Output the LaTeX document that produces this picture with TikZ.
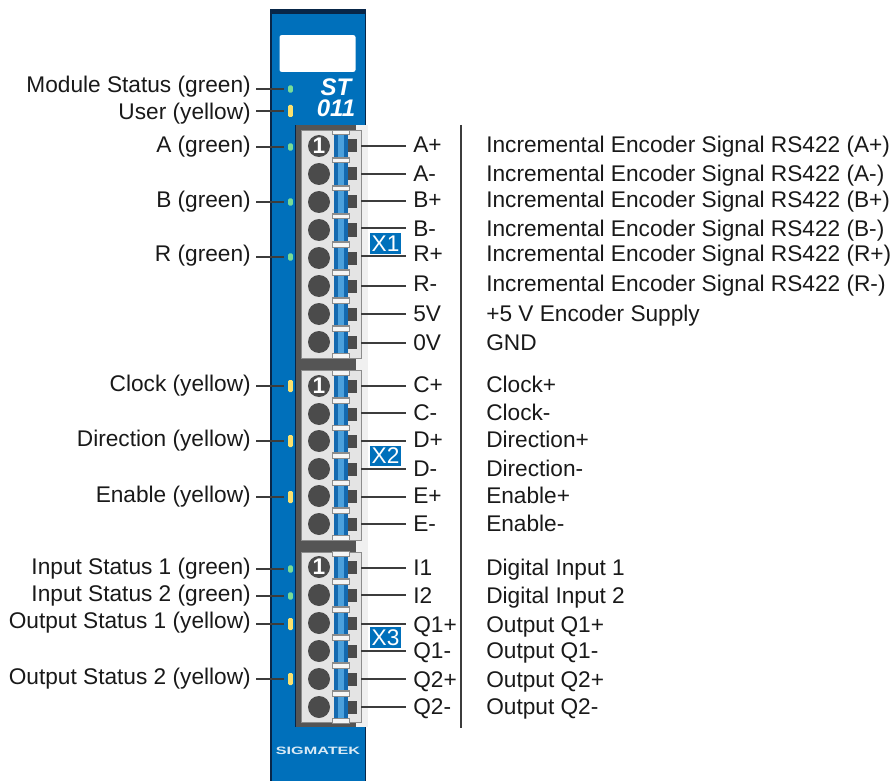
\documentclass[tikz,border=0pt]{standalone}
\usepackage{fontspec}
\setmainfont{Liberation Sans}
\definecolor{moduleBlue}{RGB}{0,112,187}
\definecolor{moduleEdge}{RGB}{8,38,72}
\definecolor{stripBlue}{RGB}{20,105,175}
\definecolor{stripLight}{RGB}{75,160,220}
\definecolor{frameGray}{RGB}{85,85,85}
\definecolor{blockGray}{RGB}{228,228,228}
\definecolor{shadeGray}{RGB}{240,240,240}
\definecolor{holeGray}{RGB}{75,75,75}
\definecolor{ledGreen}{RGB}{120,220,150}
\definecolor{ledYellow}{RGB}{250,225,110}
\definecolor{leadGray}{RGB}{60,60,60}
\tikzset{
  txt/.style={font=\fontsize{17}{19}\selectfont,text=black!90,inner sep=0pt},
  leftlab/.style={txt,anchor=base east},
  pinlab/.style={txt,anchor=base west},
  desc/.style={txt,anchor=base west},
  lead/.style={leadGray,line width=1.1pt},
  led/.style={rectangle,rounded corners=1pt,minimum width=3.6pt,inner sep=0pt,outer sep=3pt},
  pinhole/.style={circle,fill=holeGray,minimum size=16.5pt,inner sep=0pt},
  strip/.style={rectangle,fill=stripBlue,minimum width=10.5pt,minimum height=21pt,inner sep=0pt},
  stripin/.style={rectangle,fill=stripLight,minimum width=4pt,minimum height=21pt,inner sep=0pt},
  clip/.style={rectangle,draw=black!45,fill=white!92!gray,line width=.4pt,minimum width=12.5pt,minimum height=3.4pt,inner sep=0pt},
  lug/.style={rectangle,fill=holeGray,minimum width=6.4pt,minimum height=9.75pt,inner sep=0pt},
  xtag/.style={rectangle,fill=moduleBlue,text=white,font=\fontsize{17}{17}\selectfont,minimum width=23.5pt,minimum height=15.5pt,inner sep=0pt},
  firstpin/.style={font=\fontsize{17}{17}\selectfont\bfseries,text=white,inner sep=0pt},
  typeface/.style={font=\fontsize{18}{15.75}\selectfont\bfseries\itshape,text=white,inner sep=0pt,align=center}
}
\begin{document}
\begin{tikzpicture}[x=0.75pt,y=-0.75pt]
  \useasboundingbox (0,0) rectangle (896,781);
  % Housing
  \fill[moduleEdge] (270,9) rectangle (366,781);
  \fill[moduleBlue] (272,14) rectangle (364.5,781);
  \node[rectangle,fill=white,rounded corners=1.5pt,minimum width=57pt,minimum height=27.5pt,inner sep=0pt] (window) at (317.5,53.5) {};
  \node[typeface] (type) at (336,98) {ST\\011};
  \node[font=\fontsize{8}{8}\selectfont\bfseries,text=white!85!moduleBlue,inner sep=0pt,xscale=1.52] (brand) at (318,751) {SIGMATEK};
  % Terminal frame
  \fill[shadeGray] (356,125) rectangle (368,727);
  \fill[frameGray] (296,125) rectangle (356,727);
  \fill[moduleEdge] (295,125) rectangle (296,727);
  \filldraw[blockGray,draw=black!45,line width=.5pt] (301,130) rectangle (361,358);
  \filldraw[blockGray,draw=black!45,line width=.5pt] (301,370) rectangle (361,540);
  \filldraw[blockGray,draw=black!45,line width=.5pt] (301,552) rectangle (361,722);
  % Pins with their labels
  \foreach \py/\ly/\tb/\pname/\ptext [count=\n] in {
    146/146/153/A+/Incremental Encoder Signal RS422 (A+),
    174/174/181/A-/Incremental Encoder Signal RS422 (A-),
    202/201/208/B+/Incremental Encoder Signal RS422 (B+),
    230/228/236/B-/Incremental Encoder Signal RS422 (B-),
    258/256/262/R+/Incremental Encoder Signal RS422 (R+),
    286/286/291/R-/Incremental Encoder Signal RS422 (R-),
    314/314/321/5V/+5 V Encoder Supply,
    342/343/350/0V/GND,
    386/386/392/C+/Clock+,
    414/413/420/C-/Clock-,
    441/441/447/D+/Direction+,
    469/469/476/D-/Direction-,
    496/497/503/E+/Enable+,
    524/524/531/E-/Enable-,
    567/568/575/I1/Digital Input 1,
    595/595/603/I2/Digital Input 2,
    623/624/632/Q1+/Output Q1+,
    651/651/658/Q1-/Output Q1-,
    679/679/687/Q2+/Output Q2+,
    707/707/714/Q2-/Output Q2-}{
    \node[pinhole] (hole\n) at (319,\py) {};
    \node[strip] (strip\n) at (341,\py) {};
    \node[stripin] at (341,\py) {};
    \node[clip] at (340.5,\py-13.5) {};
    \node[clip] at (340.5,\py+13.5) {};
    \node[lug] (lug\n) at (352.5,\py) {};
    \coordinate (pinend\n) at (361,\ly);
    \node[pinlab] (pin\n) at (413,\tb) {\pname};
    \node[desc] (desc\n) at (486,\tb) {\ptext};
    \draw[lead] (pinend\n) -- ([xshift=-5pt]pinend\n -| pin\n.west);
  }
  % First pin of each terminal
  \node[firstpin] (one1) at (hole1) {1};
  \node[firstpin] (one2) at (hole9) {1};
  \node[firstpin] (one3) at (hole15) {1};
  % Terminal tags
  \node[xtag] (x1) at (385.5,243.5) {X1};
  \node[xtag] (x2) at (385.5,456) {X2};
  \node[xtag] (x3) at (385.5,637.5) {X3};
  % Divider
  \coordinate (divtop) at (461,125);
  \coordinate (divbot) at (461,728);
  \draw[lead] (divtop) -- (divbot);
  % Status LEDs
  \foreach \ly/\tb/\lh/\lcol/\ltext [count=\n] in {
    89/93/5.5pt/ledGreen/Module Status (green),
    111/120/9pt/ledYellow/User (yellow),
    147/153/5.5pt/ledGreen/A (green),
    202/208/5.5pt/ledGreen/B (green),
    257/262/5.5pt/ledGreen/R (green),
    386/391/9pt/ledYellow/Clock (yellow),
    441/446/9pt/ledYellow/Direction (yellow),
    497/502/9pt/ledYellow/Enable (yellow),
    569/574/5.5pt/ledGreen/Input Status 1 (green),
    596/601/5.5pt/ledGreen/Input Status 2 (green),
    624/628/9pt/ledYellow/Output Status 1 (yellow),
    679/684/9pt/ledYellow/Output Status 2 (yellow)}{
    \node[led,fill=\lcol,minimum height=\lh] (led\n) at (290.5,\ly) {};
    \node[leftlab] (ledlab\n) at (251,\tb) {\ltext};
    \coordinate (ledfoot\n) at (256,\ly);
    \draw[lead] (ledfoot\n) -- (led\n);
  }
\end{tikzpicture}
\end{document}
